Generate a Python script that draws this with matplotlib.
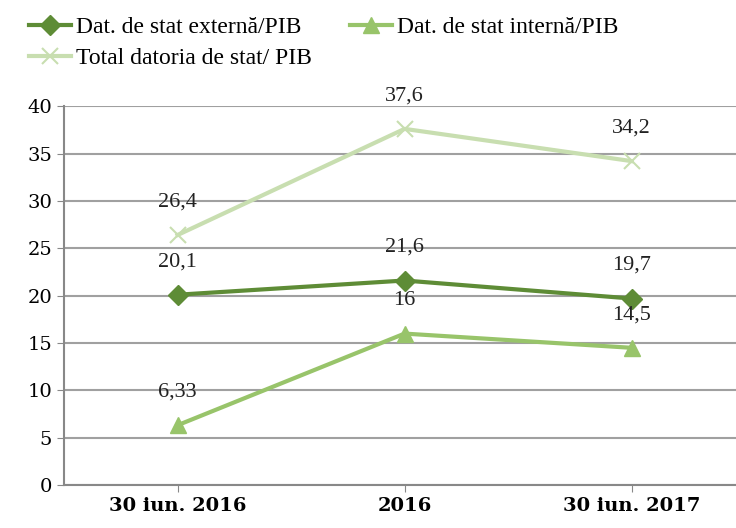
import numpy as np
import matplotlib
matplotlib.use("Agg")
import matplotlib.pyplot as plt
from matplotlib.font_manager import FontProperties

plt.rcParams['font.family'] = ['DejaVu Serif']

categories = ["30 iun. 2016", "2016", "30 iun. 2017"]
externa = [20.1, 21.6, 19.7]
interna = [6.33, 16, 14.5]
total = [26.4, 37.6, 34.2]
externa_lbl = ["20,1", "21,6", "19,7"]
interna_lbl = ["6,33", "16", "14,5"]
total_lbl = ["26,4", "37,6", "34,2"]

c_ext = "#5e8c36"
c_int = "#98c46a"
c_tot = "#c8deb0"

fig = plt.figure(figsize=(7.36, 5.28), dpi=100)
ax = fig.add_axes([0.087, 0.081, 0.913, 0.718])

x = np.arange(len(categories))

h1, = ax.plot(x, externa, color=c_ext, lw=3, marker="D", ms=10, label="Dat. de stat externă/PIB", zorder=3)
h2, = ax.plot(x, interna, color=c_int, lw=3, marker="^", ms=12, label="Dat. de stat internă/PIB", zorder=3)
h3, = ax.plot(x, total, color=c_tot, lw=3, marker="x", ms=12, mew=1.5, label="Total datoria de stat/ PIB", zorder=3)

for vals, lbls in [(externa, externa_lbl), (interna, interna_lbl), (total, total_lbl)]:
    for xi, v, t in zip(x, vals, lbls):
        ax.annotate(t, (xi, v), xytext=(0, 17), textcoords="offset points",
                    ha="center", va="bottom", fontsize=16, color="#222222",
                    family=["Liberation Serif", "DejaVu Serif"])

ax.set_ylim(0, 40)
ax.set_yticks(range(0, 41, 5))
ax.set_xlim(-0.5, 2.46)
ax.set_xticks(x)
ax.set_xticklabels(categories, fontsize=14, fontweight="bold")
ax.tick_params(axis="y", labelsize=14, length=5, color="#888888")
ax.tick_params(axis="x", length=5, color="#888888")
ax.grid(axis="y", color="#a0a0a0", lw=1.5)
ax.set_axisbelow(True)
for s in ["top", "right"]:
    ax.spines[s].set_visible(False)
ax.spines["left"].set_color("#888888")
ax.spines["bottom"].set_color("#888888")
ax.spines["left"].set_linewidth(1.5)
ax.spines["bottom"].set_linewidth(1.5)

# order so that row 1 = externa, interna; row 2 = total
leg_font = FontProperties(family=["Liberation Serif", "DejaVu Serif"], size=17)
fig.legend([h1, h3, h2], [h1.get_label(), h3.get_label(), h2.get_label()],
           loc="upper left", bbox_to_anchor=(0.02, 0.995), ncol=2, frameon=False,
           prop=leg_font, handlelength=1.8, handletextpad=0.2, columnspacing=1.6,
           labelspacing=0.4, borderaxespad=0.2)

fig.savefig("out.png", dpi=100)
